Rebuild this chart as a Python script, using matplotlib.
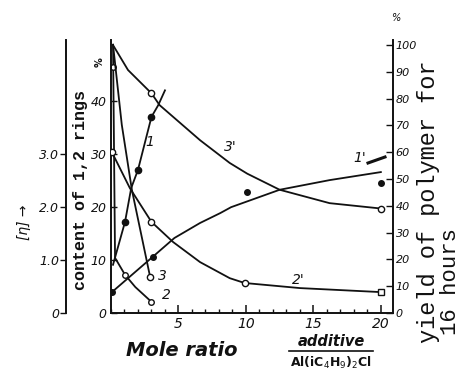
import matplotlib
matplotlib.use("Agg")
import matplotlib.pyplot as plt
from matplotlib.ticker import MultipleLocator

# ---------------- data ----------------
# content of 1,2 rings (%)  -- left inner axis
c1_x = [0.15, 1.04, 1.5, 2.0, 3.0, 3.5, 4.0]
c1_y = [9.1, 17.2, 23.6, 27.0, 37.0, 39.2, 42.0]
c1_mx = [1.04, 2.0, 3.0]
c1_my = [17.2, 27.0, 37.0]

c2_x = [0.15, 0.3, 1.04, 1.8, 3.0]
c2_y = [50.6, 10.4, 7.2, 4.9, 2.1]
c2_mx = [0.15, 1.04, 3.0]
c2_my = [46.4, 7.2, 2.1]

c3_x = [0.15, 0.8, 1.55, 2.9]
c3_y = [50.6, 35.5, 23.2, 6.8]
c3_mx = [2.9]
c3_my = [6.8]

# yield of polymer for 16 hours (%) -- right axis
y1_x = [0.07, 3.1, 4.7, 6.6, 8.1, 8.9, 12.5, 16.2, 20.0]
y1_y = [7.8, 21.0, 28.0, 33.6, 37.3, 39.5, 46.0, 49.6, 52.6]
y1_mx = [0.07, 3.1, 10.1, 20.0]
y1_my = [7.8, 21.0, 45.0, 48.5]

y2_x = [0.07, 1.4, 3.0, 4.6, 6.6, 8.8, 9.9, 14.0, 20.0]
y2_y = [60.0, 46.6, 34.0, 26.5, 19.0, 13.0, 11.2, 9.3, 7.8]
y2_mx = [0.07, 3.0, 9.9]
y2_my = [60.0, 34.0, 11.2]
y2_sqx = [20.0]
y2_sqy = [7.8]

y3_x = [0.15, 1.26, 3.0, 3.6, 6.6, 8.8, 10.1, 12.5, 16.2, 20.0]
y3_y = [100.0, 90.7, 82.0, 77.6, 64.5, 56.0, 52.0, 46.0, 41.0, 39.0]
y3_mx = [3.0, 20.0]
y3_my = [82.0, 39.0]

x_ticks = [5, 10, 15, 20]
content_ticks = [0, 10, 20, 30, 40]
eta_ticks = [0, 1.0, 2.0, 3.0]
eta_labels = ["0", "1.0", "2.0", "3.0"]
yield_ticks = [0, 10, 20, 30, 40, 50, 60, 70, 80, 90, 100]

# ---------------- figure ----------------
W, H = 462, 377
fig = plt.figure(figsize=(W / 100, H / 100), dpi=100)
fig.patch.set_facecolor("white")

ax = fig.add_axes([111 / W, 64 / H, 282 / W, 273 / H])
axr = ax.twinx()
axe = ax.twinx()

ink = "#111111"
lw = 1.3

ax.set_xlim(0, 20.9)
ax.set_ylim(0, 51.5)
axr.set_ylim(0, 101.9)
axe.set_ylim(0, 5.15)

for a in (ax, axr, axe):
    a.patch.set_visible(False)
    a.spines["top"].set_visible(False)
    for s in a.spines.values():
        s.set_color(ink)
        s.set_linewidth(1.4)
ax.spines["right"].set_visible(False)
axr.spines["left"].set_visible(False)
axr.spines["bottom"].set_visible(False)
axe.spines["right"].set_visible(False)
axe.spines["bottom"].set_visible(False)
axe.spines["left"].set_visible(True)
axe.spines["left"].set_position(("outward", 45 * 0.72))
axe.yaxis.set_ticks_position("left")
axe.yaxis.set_label_position("left")

# x axis
ax.set_xticks(x_ticks, [str(t) for t in x_ticks], fontstyle="italic", fontsize=10)
ax.xaxis.set_minor_locator(MultipleLocator(1))
ax.tick_params(axis="x", which="major", direction="in", length=6, width=1.1, pad=3, colors=ink)
ax.tick_params(axis="x", which="minor", direction="in", length=3, width=1.0, colors=ink)

# inner left axis (content)
ax.set_yticks(content_ticks, [str(t) for t in content_ticks], fontstyle="italic", fontsize=9)
ax.tick_params(axis="y", direction="in", length=4, width=1.0, pad=3, colors=ink)

# outer left axis ([eta])
axe.set_yticks(eta_ticks, eta_labels, fontstyle="italic", fontsize=9)
axe.tick_params(axis="y", direction="out", length=4, width=1.0, pad=1, colors=ink)

# right axis (yield)
axr.set_yticks(yield_ticks, [str(t) for t in yield_ticks], fontstyle="italic", fontsize=8)
axr.tick_params(axis="y", direction="in", length=5, width=1.0, pad=2, colors=ink)

# ---------------- curves ----------------
ax.plot(c1_x, c1_y, color=ink, lw=lw)
ax.plot(c1_mx, c1_my, "o", ms=4.5, color=ink)
ax.plot(c2_x, c2_y, color=ink, lw=lw)
ax.plot(c2_mx, c2_my, "o", ms=4, mfc="white", mec=ink, mew=1)
ax.plot(c3_x, c3_y, color=ink, lw=lw)
ax.plot(c3_mx, c3_my, "o", ms=4.5, mfc="white", mec=ink, mew=1)

axr.plot(y1_x, y1_y, color=ink, lw=lw)
axr.plot(y1_mx, y1_my, "o", ms=4, color=ink)
axr.plot(y2_x, y2_y, color=ink, lw=lw)
axr.plot(y2_mx, y2_my, "o", ms=4.5, mfc="white", mec=ink, mew=1)
axr.plot(y2_sqx, y2_sqy, "s", ms=5, mfc="white", mec=ink, mew=1)
axr.plot(y3_x, y3_y, color=ink, lw=lw)
axr.plot(y3_mx, y3_my, "o", ms=4.5, mfc="white", mec=ink, mew=1)

# ---------------- curve labels ----------------
def fp(x, y):
    return (x / W, 1 - y / H)

lab = dict(fontstyle="italic", fontsize=10, color=ink, ha="center", va="center")
fig.text(*fp(150, 142), "1", **lab)
fig.text(*fp(166, 295), "2", **lab)
fig.text(*fp(162, 276), "3", **lab)
fig.text(*fp(360, 158), "1'", **lab)
fig.text(*fp(298, 280), "2'", **lab)
fig.text(*fp(230, 147), "3'", **lab)
fig.add_artist(plt.Line2D([368 / W, 385 / W], [1 - 163 / H, 1 - 157 / H],
                          color=ink, lw=2.2, transform=fig.transFigure))

# ---------------- axis titles ----------------
fig.text(*fp(80, 190), "content of 1,2 rings", rotation=90, family="Liberation Mono",
         fontweight="bold", fontsize=12, ha="center", va="center", color=ink)
fig.text(*fp(100, 62), "%", rotation=90, fontsize=7, fontweight="bold",
         ha="center", va="center", color=ink)
fig.text(*fp(24, 222), "[η] →", rotation=90, fontstyle="italic", fontsize=10,
         ha="center", va="center", color=ink)
fig.text(*fp(396, 18), "%", fontsize=7, fontstyle="italic", ha="center",
         va="center", color=ink)

fig.text(*fp(429, 343), "yield of polymer for", rotation=90, rotation_mode="anchor",
         family="Liberation Mono", fontsize=17, ha="left", va="center", color=ink)
fig.text(*fp(451, 335), "16 hours", rotation=90, rotation_mode="anchor",
         family="Liberation Mono", fontsize=16, ha="left", va="center", color=ink)

fig.text(*fp(182, 350), "Mole ratio", fontstyle="italic", fontweight="bold",
         fontsize=14, ha="center", va="center", color=ink)
fig.text(*fp(331, 342), "additive", fontstyle="italic", fontweight="bold",
         fontsize=10.5, ha="center", va="center", color=ink)
fig.add_artist(plt.Line2D([289 / W, 373 / W], [1 - 351 / H, 1 - 351 / H],
                          color=ink, lw=1.2, transform=fig.transFigure))
fig.text(*fp(331, 363), r"Al(iC$_4$H$_9$)$_2$Cl", fontsize=9, fontweight="bold",
         ha="center", va="center", color=ink)

fig.savefig("out.png", dpi=100, facecolor="white")
